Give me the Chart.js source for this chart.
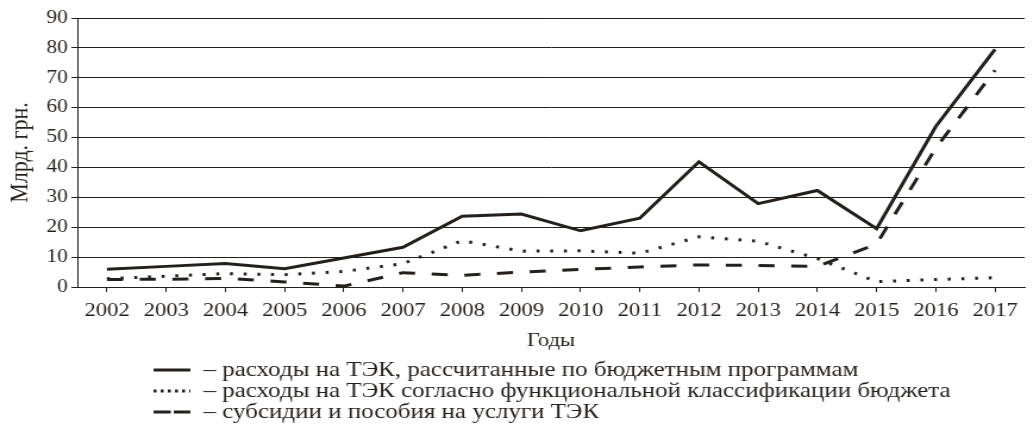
<!DOCTYPE html>
<html>
<head>
<meta charset="utf-8">
<script src="https://cdn.jsdelivr.net/npm/chart.js@4.4.1/dist/chart.umd.min.js"></script>
<style>
  html, body { margin: 0; padding: 0; background: #fff; overflow: hidden; }
  /* the source figure is a bit wider than its type, so draw narrow and stretch */
  #wrap { width: 868px; height: 427px; transform: scaleX(1.19); transform-origin: 0 0; }
</style>
</head>
<body>
<div id="wrap"><canvas id="chart" width="868" height="427"></canvas></div>
<script>
// ── Data (Млрд. грн.) ───────────────────────────────────────────────────────
const YEARS = ['2002', '2003', '2004', '2005', '2006', '2007', '2008', '2009',
               '2010', '2011', '2012', '2013', '2014', '2015', '2016', '2017'];

const BUDGET_PROGRAMS  = [5.9, 6.9, 7.9, 6.1, 9.7, 13.3, 23.7, 24.4, 18.8, 23.0, 41.9, 27.9, 32.3, 19.5, 53.7, 79.5];
const FUNCTIONAL_CLASS = [2.8, 3.6, 4.5, 4.1, 5.2, 7.8, 15.5, 12.0, 12.1, 11.3, 16.8, 15.3, 9.5, 1.8, 2.5, 3.1];
const SUBSIDIES        = [2.5, 2.6, 2.9, 1.7, 0.3, 4.8, 3.9, 5.0, 5.9, 6.7, 7.4, 7.2, 6.9, 14.4, 46.5, 72.5];

const LABELS = [
  'расходы на ТЭК, рассчитанные по бюджетным программам',
  'расходы на ТЭК согласно функциональной классификации бюджета',
  'субсидии и пособия на услуги ТЭК',
];

const INK  = '#231f1c';
const FONT = '"Liberation Serif", "DejaVu Serif", serif';

// ── Legend under the axis title, one row per series ─────────────────────────
const legendBelow = {
  id: 'legendBelow',
  afterDraw(chart) {
    const ctx  = chart.ctx;
    const rows = [370, 391, 412];
    ctx.save();
    ctx.font         = `21px ${FONT}`;
    ctx.fillStyle    = INK;
    ctx.textBaseline = 'middle';
    chart.data.datasets.forEach((ds, i) => {
      const y = rows[i];
      ctx.strokeStyle = ds.borderColor;
      ctx.lineWidth   = 3;
      ctx.lineCap     = 'butt';
      ctx.setLineDash(ds.legendDash);
      ctx.beginPath();
      ctx.moveTo(129, y);
      ctx.lineTo(160, y);
      ctx.stroke();
      ctx.setLineDash([]);
      ctx.fillText('– ' + ds.label, 171, y);
    });
    ctx.restore();
  },
};

function series(label, data, dash, legendDash) {
  return {
    label,
    data,
    borderColor : INK,
    borderWidth : 3,
    borderDash  : dash,
    legendDash,
    tension     : 0,
    fill        : false,
    pointRadius : 0,
  };
}

new Chart(document.getElementById('chart'), {
  type: 'line',
  data: {
    labels: YEARS,
    datasets: [
      series(LABELS[0], BUDGET_PROGRAMS,  [],         []),
      series(LABELS[1], FUNCTIONAL_CLASS, [2.5, 9],   [2.5, 3.5]),
      series(LABELS[2], SUBSIDIES,        [13.5, 14], [14.5, 2.5]),
    ],
  },
  options: {
    responsive : false,
    animation  : false,
    layout     : { padding: { top: 18, left: 4, right: 7, bottom: 75 } },
    plugins    : { legend: { display: false }, tooltip: { enabled: false } },
    scales: {
      x: {
        offset: true,
        grid  : { drawOnChartArea: false, drawTicks: true, tickLength: 5, color: INK },
        border: { color: INK, width: 1 },
        ticks : { color: INK, font: { family: FONT, size: 19 }, padding: 8, maxRotation: 0, autoSkip: false },
        title : { display: true, text: 'Годы', color: INK, font: { family: FONT, size: 19 }, padding: { top: 0, bottom: 0 } },
        afterFit(scale) { scale.height = 65; },
      },
      y: {
        min: 0,
        max: 90,
        grid  : { color: INK, tickLength: 5 },
        border: { color: INK, width: 1 },
        ticks : { stepSize: 10, color: INK, font: { family: FONT, size: 18 }, padding: 3 },
        title : { display: true, text: 'Млрд. грн.', color: INK, font: { family: FONT, size: 22 }, padding: { top: 0, bottom: 0 } },
        afterFit(scale) { scale.width = 61; },
      },
    },
  },
  plugins: [legendBelow],
});
</script>
</body>
</html>
